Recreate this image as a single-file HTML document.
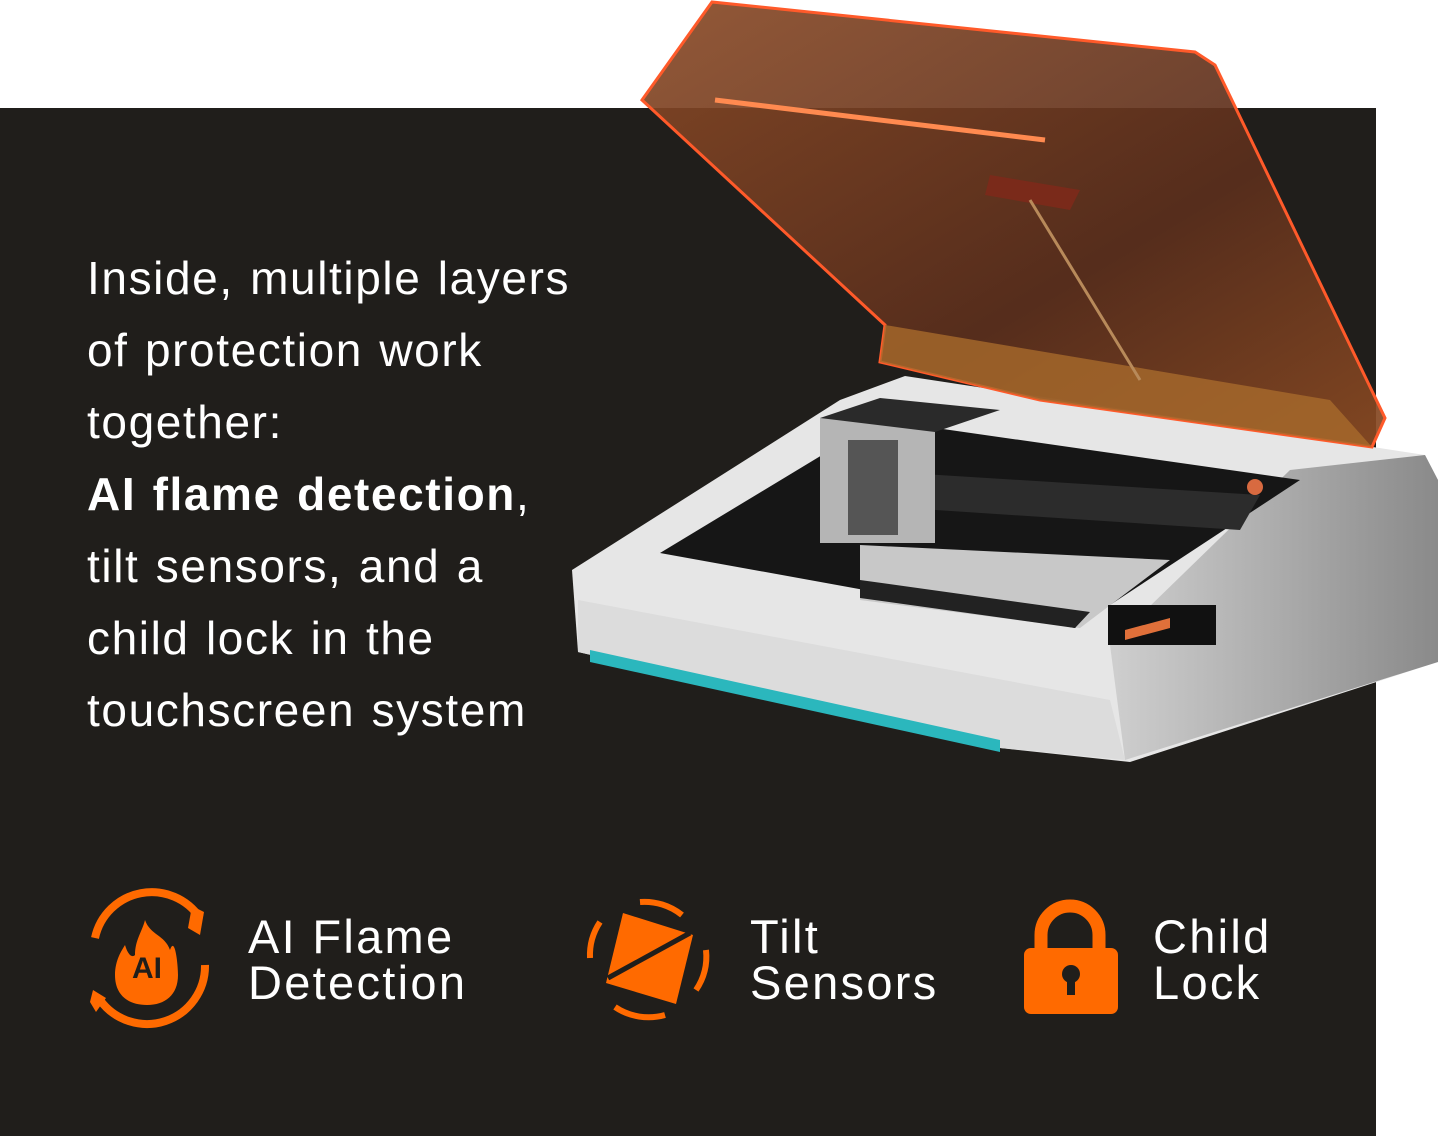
<!DOCTYPE html>
<html><head><meta charset="utf-8"><style>
html,body{margin:0;padding:0;background:#fff;width:1440px;height:1136px;overflow:hidden;position:relative;font-family:"Liberation Sans",sans-serif}
.bg{position:absolute;left:0;top:108px;width:1376px;height:1028px;background:#201e1b}
.txt{position:absolute;left:87px;top:242px;color:#fff;font-size:46px;line-height:72px;letter-spacing:1.6px;word-spacing:2px}
.lab{position:absolute;color:#fff;font-size:47px;line-height:46px;letter-spacing:2.3px}
svg{position:absolute;left:0;top:0}
</style></head><body>
<div class="bg"></div>
<svg width="1440" height="1136" viewBox="0 0 1440 1136">
<defs>
<linearGradient id="lid" x1="0" y1="0" x2="1" y2="1"><stop offset="0" stop-color="#8a4a26"/><stop offset="0.6" stop-color="#5a2e1c"/><stop offset="1" stop-color="#8a4a22"/></linearGradient>
<linearGradient id="side" x1="0" y1="0" x2="1" y2="0"><stop offset="0" stop-color="#cfcfcf"/><stop offset="1" stop-color="#8a8a8a"/></linearGradient>
</defs>
<polygon points="572,570 840,400 905,376 1360,445 1425,455 1438,480 1438,662 1130,762 1000,748 578,652" fill="#e6e6e6"/>
<polygon points="1290,470 1425,455 1438,480 1438,662 1125,760 1110,645" fill="url(#side)"/>
<polygon points="578,600 1110,700 1125,760 1000,748 578,652" fill="#dcdcdc"/>
<polygon points="590,650 1000,740 1000,752 590,662" fill="#2bb7bd"/>
<polygon points="660,553 880,420 1300,480 1075,628" fill="#161616"/>
<polygon points="860,470 1260,495 1240,530 860,505" fill="#2c2c2c"/>
<polygon points="860,545 1170,560 1080,628 860,600" fill="#c8c8c8"/>
<polygon points="860,580 1090,612 1075,628 860,598" fill="#222"/>
<rect x="820" y="418" width="115" height="125" fill="#b5b5b5"/>
<polygon points="820,418 880,398 1000,410 935,432" fill="#2a2a2a"/>
<rect x="848" y="440" width="50" height="95" fill="#555"/>
<rect x="1108" y="605" width="108" height="40" fill="#111"/>
<polygon points="1125,630 1170,618 1170,628 1125,640" fill="#e0703a"/>
<circle cx="1255" cy="487" r="8" fill="#d86a40"/>
<polygon points="642,100 712,2 1195,52 1215,65 1385,418 1372,447 1040,400 880,362 885,325" fill="url(#lid)" fill-opacity="0.92" stroke="#ff5a2a" stroke-width="3"/>
<polygon points="885,325 1330,400 1372,447 1040,400 880,362" fill="#a86a2c" fill-opacity="0.8"/>
<line x1="715" y1="100" x2="1045" y2="140" stroke="#ff8a50" stroke-width="5"/>
<polygon points="990,175 1080,190 1070,210 985,195" fill="#7a2a1a"/>
<line x1="1030" y1="200" x2="1140" y2="380" stroke="#b88a5a" stroke-width="3"/>
<g fill="none" stroke="#ff6a00" stroke-width="8">
<path d="M95,938 A58,58 0 0 1 200,918"/>
<path d="M205,965 A58,58 0 0 1 100,1000"/>
</g>
<polygon points="192,906 204,912 200,935 188,928" fill="#ff6a00"/>
<polygon points="93,990 106,998 96,1012 90,1002" fill="#ff6a00"/>
<path d="M145,920 C150,935 165,935 170,950 C175,935 178,965 178,975 C178,995 165,1005 147,1005 C128,1005 115,995 115,975 C115,960 122,950 125,945 C128,955 132,958 135,955 C135,940 142,932 145,920 Z" fill="#ff6a00"/>
<text x="147" y="978" fill="#201e1b" font-size="30" font-weight="bold" text-anchor="middle" font-family="Liberation Sans">AI</text>
<polygon points="623,913 693,935 676,1004 606,983" fill="#ff6a00"/>
<line x1="608" y1="978" x2="690" y2="933" stroke="#201e1b" stroke-width="5"/>
<g fill="none" stroke="#ff6a00" stroke-width="6">
<path d="M640,902 A60,60 0 0 1 682,915"/>
<path d="M600,922 A60,60 0 0 0 590,958"/>
<path d="M706,950 A60,60 0 0 1 696,990"/>
<path d="M665,1015 A60,60 0 0 1 615,1007"/>
</g>
<path d="M1041,950 V935 A29,29 0 0 1 1099,935 V950" fill="none" stroke="#ff6a00" stroke-width="13"/>
<rect x="1024" y="948" width="94" height="66" rx="7" fill="#ff6a00"/>
<circle cx="1071" cy="974" r="9" fill="#201e1b"/>
<rect x="1067" y="975" width="8" height="20" fill="#201e1b"/>
</svg>
<div class="txt">Inside, multiple layers<br>of protection work<br>together:<br><b>AI flame detection</b>,<br>tilt sensors, and a<br>child lock in the<br>touchscreen system</div>
<div class="lab" style="left:248px;top:914px">AI Flame<br>Detection</div>
<div class="lab" style="left:750px;top:914px">Tilt<br>Sensors</div>
<div class="lab" style="left:1153px;top:914px">Child<br>Lock</div>
</body></html>
